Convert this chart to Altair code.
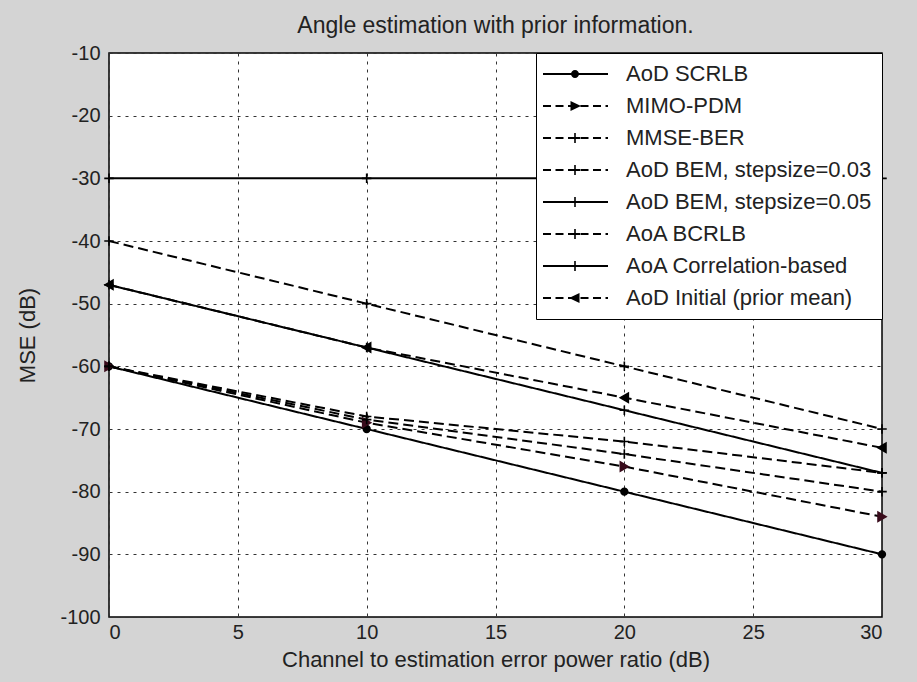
import altair as alt
import pandas as pd

# ---------------- data ----------------
x_vals = [0, 10, 20, 30]
series_names = [
    "AoD SCRLB",
    "MIMO-PDM",
    "MMSE-BER",
    "AoD BEM, stepsize=0.03",
    "AoD BEM, stepsize=0.05",
    "AoA BCRLB",
    "AoA Correlation-based",
    "AoD Initial (prior mean)",
]
aod_scrlb = [-60, -70, -80, -90]
mimo_pdm = [-60, -69, -76, -84]
mmse_ber = [-60, -68.5, -74, -80]
aod_bem_003 = [-60, -68, -72, -77]
aod_bem_005 = [-47, -57, -67, -77]
aoa_bcrlb = [-40, -50, -60, -70]
aoa_corr = [-30, -30, -30, -30]
aod_initial = [-47, -57, -65, -73]
x_ticks = [0, 5, 10, 15, 20, 25, 30]
y_ticks = [-100, -90, -80, -70, -60, -50, -40, -30, -20, -10]

series_values = [aod_scrlb, mimo_pdm, mmse_ber, aod_bem_003, aod_bem_005,
                 aoa_bcrlb, aoa_corr, aod_initial]

# ---------------- styles ----------------
dashed = [False, True, True, True, False, True, False, True]
marker = ["circle", "tri-right", "plus", "plus", "plus", "plus", "plus", "tri-left"]

PLUS = "M-1,0L1,0M0,-1L0,1"
marker_def = {
    "circle": dict(shape="circle", size=45, color="black"),
    "tri-right": dict(shape="triangle-right", size=85, color="#3a0c1c"),
    "tri-left": dict(shape="triangle-left", size=85, color="black"),
    "plus": dict(shape=PLUS, size=90, color="black"),
}


def rect(x0, x1, h):
    # clockwise filled rectangle centred on y=0
    return f"M{x0:.2f},{-h:.2f}L{x1:.2f},{-h:.2f}L{x1:.2f},{h:.2f}L{x0:.2f},{h:.2f}Z"


def legend_path(is_dashed, mk):
    """Legend glyph made only of filled shapes (line sample + marker)."""
    left, right = -2.8, 10.2
    c = 3.6
    t = 0.2
    parts = []
    if is_dashed:
        pos = left
        while pos < right:
            end = min(pos + 1.6, right)
            parts.append(rect(pos, end, t))
            pos = end + 0.9
    else:
        parts.append(rect(left, right, t))
    if mk == "circle":
        r = 0.8
        parts.append(f"M{c-r},0A{r},{r} 0 1,1 {c+r},0A{r},{r} 0 1,1 {c-r},0Z")
    elif mk == "plus":
        parts.append(f"M{c-0.16:.2f},-1L{c+0.16:.2f},-1L{c+0.16:.2f},1L{c-0.16:.2f},1Z")
        parts.append(rect(c - 1, c + 1, t))
    elif mk == "tri-right":
        parts.append(f"M{c-0.9},-1L{c+1.2},0L{c-0.9},1Z")
    elif mk == "tri-left":
        parts.append(f"M{c+0.9},1L{c-1.2},0L{c+0.9},-1Z")
    return "".join(parts)


rows = []
for name, vals in zip(series_names, series_values):
    for xv, yv in zip(x_vals, vals):
        rows.append({"series": name, "x": xv, "y": yv})
df = pd.DataFrame(rows)

FONT = "Liberation Sans"
TXT = "#222222"

xenc = alt.X("x:Q", scale=alt.Scale(domain=[0, 30], nice=False, zero=False),
             axis=alt.Axis(values=x_ticks, title="Channel to estimation error power ratio (dB)",
                           labelExpr="'' + datum.value"))
yenc = alt.Y("y:Q", scale=alt.Scale(domain=[-100, -10], nice=False, zero=False),
             axis=alt.Axis(values=y_ticks, title="MSE (dB)",
                           labelExpr="'' + datum.value"))

lines = alt.Chart(df).mark_line(color="black", strokeWidth=2).encode(
    x=xenc, y=yenc,
    detail="series:N",
    strokeDash=alt.StrokeDash(
        "series:N",
        scale=alt.Scale(domain=series_names,
                        range=[[10, 5] if d else [1, 0] for d in dashed]),
        legend=None),
)

marker_layers = []
for kind, md in marker_def.items():
    members = [n for n, m in zip(series_names, marker) if m == kind]
    marker_layers.append(
        alt.Chart(df).transform_filter(
            alt.FieldOneOfPredicate(field="series", oneOf=members)
        ).mark_point(
            shape=md["shape"], size=md["size"], fill=md["color"], stroke=md["color"],
            filled=False, strokeWidth=1.6, opacity=1, fillOpacity=1,
        ).encode(x="x:Q", y="y:Q")
    )

legend_layer = alt.Chart(df).transform_calculate(
    entry="datum.series"
).mark_point(
    filled=True, color="black", opacity=0
).encode(
    x="x:Q", y="y:Q",
    shape=alt.Shape(
        "entry:N",
        scale=alt.Scale(domain=series_names,
                        range=[legend_path(d, m) for d, m in zip(dashed, marker)]),
        legend=alt.Legend(
            title=None, orient="top-right", offset=0,
            symbolSize=100, symbolOpacity=1, symbolStrokeWidth=0,
            symbolFillColor="black",
            labelFont=FONT, labelFontSize=22, labelColor=TXT, labelLimit=400,
            labelOffset=58, rowPadding=10,
            strokeColor="black", fillColor="white", padding=10,
            cornerRadius=0,
        ),
    ),
)

chart = alt.layer(lines, *marker_layers, legend_layer).resolve_scale(
    shape="independent", strokeDash="independent"
).resolve_legend(
    shape="independent", strokeDash="independent"
).properties(
    width=773, height=564,
    padding={"left": 109, "top": 53, "right": 35, "bottom": 65},
    autosize=alt.AutoSizeParams(type="none"),
    background="#d4d4d4",
    title=alt.TitleParams("Angle estimation with prior information.", font=FONT,
                          fontSize=23, fontWeight="normal", color=TXT, offset=5),
).configure_view(
    fill="white", stroke="black", strokeWidth=1.5
).configure_axis(
    labelFont=FONT, labelFontSize=20, labelColor=TXT,
    titleFont=FONT, titleFontSize=22, titleFontWeight="normal", titleColor=TXT,
    grid=True, gridColor="#333333", gridDash=[3, 5], gridWidth=1, gridOpacity=1,
    domain=False, ticks=False,
).configure_axisX(
    labelPadding=5, titlePadding=7,
).configure_axisY(
    labelPadding=9, titlePadding=20,
)

chart.save("out.html", embed_options={"renderer": "svg", "actions": False})
